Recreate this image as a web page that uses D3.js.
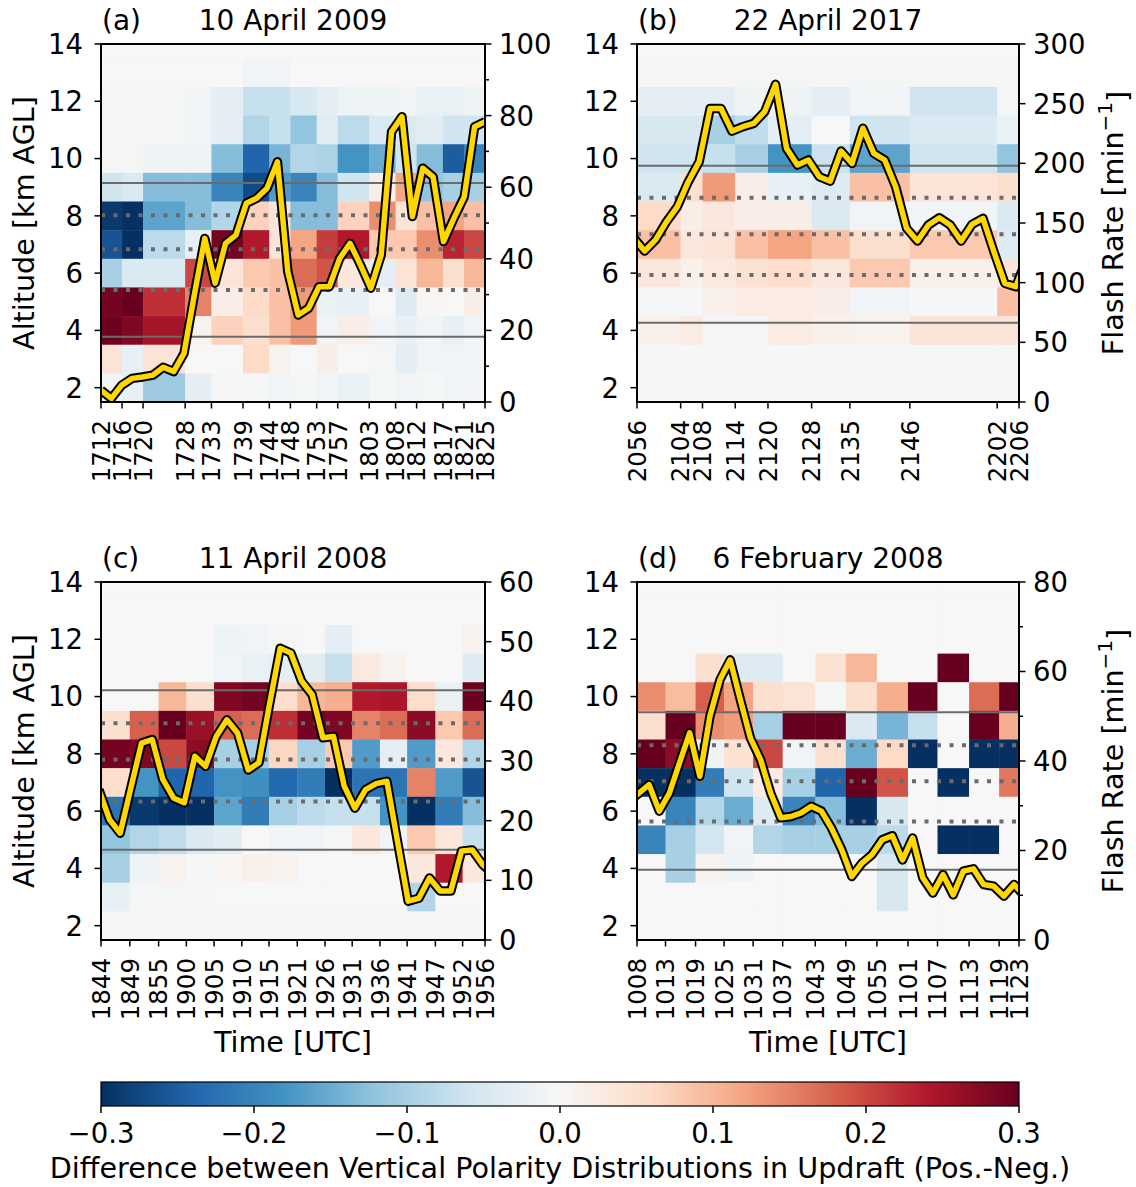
<!DOCTYPE html>
<html>
<head>
<meta charset="utf-8">
<script src="https://cdn.jsdelivr.net/npm/d3@7"></script>
<style>
  body { margin: 0; background: #fff; }
  svg { display: block; }
  text { font-family: "DejaVu Sans", sans-serif; fill: #000; }
</style>
</head>
<body>
<svg id="chart" width="1136" height="1187"></svg>
<script>
// ---------------- data ----------------
// altitude bins (km AGL), top row first
const altitudes = [14, 13, 12, 11, 10, 9, 8, 7, 6, 5, 4, 3, 2];
const altTicks = [2, 4, 6, 8, 10, 12, 14];

// radar scan times (minutes after the first scan) and their HHMM labels
const timesA = [0, 4, 8, 16, 21, 27, 32, 36, 41, 45, 51, 56, 60, 65, 69, 73];
const labelsA = ["1712","1716","1720","1728","1733","1739","1744","1748","1753","1757","1803","1808","1812","1817","1821","1825"];
const timesB = [0, 8, 12, 18, 24, 32, 39, 50, 66, 70];
const labelsB = ["2056","2104","2108","2114","2120","2128","2135","2146","2202","2206"];
const timesC = [0, 5.4, 10.8, 16, 21.2, 26.4, 31.5, 36.8, 42, 47.1, 52.3, 57.4, 62.7, 67.8, 72];
const labelsC = ["1844","1849","1855","1900","1905","1910","1915","1921","1926","1931","1936","1941","1947","1952","1956"];
const timesD = [0, 5.6, 11.5, 17.1, 22.8, 28.6, 35, 41, 47.1, 53.2, 59, 65.2, 71.1, 75];
const labelsD = ["1008","1013","1019","1025","1031","1037","1043","1049","1055","1101","1107","1113","1119","1123"];

// positive minus negative polarity difference per altitude bin (rows) and scan interval (columns)
const diffA = [
  [0,0,0,0,0,0,0,0,0,0,0,0,0,0,0],
  [0,0,0,0,0,-0.01,-0.01,0,0,0,0,0,0,0,0],
  [-0.005,-0.005,-0.005,-0.01,-0.03,-0.07,-0.07,-0.05,-0.03,-0.015,-0.015,-0.01,-0.02,-0.02,-0.015],
  [-0.005,-0.005,-0.005,-0.01,-0.03,-0.09,-0.07,-0.12,-0.035,-0.08,-0.045,-0.045,-0.035,-0.06,-0.06],
  [-0.005,-0.005,-0.015,-0.015,-0.13,-0.24,-0.14,-0.09,-0.095,-0.18,-0.15,-0.06,-0.13,-0.25,-0.2],
  [-0.06,-0.045,-0.13,-0.13,-0.2,-0.27,-0.17,-0.2,-0.13,-0.06,0.02,0.12,-0.12,-0.1,-0.1],
  [-0.29,-0.3,-0.16,-0.13,-0.09,0.07,0.04,-0.13,-0.13,0.07,0.14,0.04,0.09,0.12,0.09],
  [-0.26,-0.3,-0.08,-0.025,0.29,0.24,0.04,0.12,0.21,0.24,0.08,0.08,0.14,0.23,0.2],
  [-0.1,-0.045,-0.045,0.2,0.04,0.08,0.09,0.17,0.19,0.035,-0.03,0.04,0.1,0.05,0.1],
  [0.29,0.3,0.22,0.15,0.02,0.06,0.09,0.13,-0.02,-0.025,0,-0.04,0.005,0,0.02],
  [0.295,0.28,0.25,0.01,0.07,0.05,0.09,0.13,-0.01,0.02,-0.01,-0.025,-0.01,-0.025,-0.01],
  [0.04,-0.025,0.04,0,0,0.06,0.01,0,0.02,0,-0.005,-0.03,-0.01,-0.01,-0.01],
  [-0.01,-0.025,-0.11,-0.03,-0.005,-0.005,-0.01,-0.005,-0.01,-0.02,-0.005,-0.01,-0.005,-0.01,-0.01]
];
const diffB = [
  [0,0,0,0,0,0,0,0,0],
  [-0.005,-0.005,-0.005,-0.005,-0.005,-0.005,-0.005,-0.005,-0.005],
  [-0.03,-0.03,-0.03,-0.015,-0.015,-0.03,-0.01,-0.06,-0.005],
  [-0.05,-0.05,-0.1,-0.075,-0.03,0,-0.06,-0.045,-0.02],
  [-0.06,-0.06,-0.07,-0.1,-0.18,-0.065,-0.16,-0.06,-0.12],
  [-0.045,0.05,0.13,0.02,-0.025,-0.04,0.09,0.04,0.05],
  [0.06,0.02,0.035,0.02,0.02,-0.045,-0.01,-0.01,-0.045],
  [0.09,0.035,0.04,0.09,0.12,0.09,0.05,0.08,-0.04],
  [0.035,0.015,0.03,0.045,0.055,0.035,0.08,0.015,0.04],
  [-0.003,-0.003,0.015,0.025,0.025,0.02,-0.01,-0.003,0.09],
  [0.015,0.025,-0.005,-0.005,0.025,0.015,0.01,0.04,0.04],
  [-0.004,-0.004,-0.004,-0.004,-0.004,-0.004,-0.004,-0.004,-0.004],
  [-0.004,-0.004,-0.004,-0.004,-0.004,-0.004,-0.004,-0.004,-0.004]
];
const diffC = [
  [0,0,0,0,0,0,0,0,0,0,0,0,0,0],
  [0,0,0,0,0,0,0,0,0,0,0,0,0,0],
  [0,0,0,0,-0.015,-0.01,-0.005,0,-0.03,0,0,0,0,0.01],
  [0,0,0,0,-0.01,-0.02,-0.03,-0.035,-0.07,0.03,0.01,0,0,-0.04],
  [0,0,0.1,0.05,0.28,0.29,0.055,0.1,0.11,0.24,0.245,0.055,-0.02,0.295],
  [0.05,0.18,0.3,0.26,0.18,0.17,0.22,0.29,0.28,0.15,0.17,0.27,0.08,0.17],
  [0.29,0.28,0.2,0.27,-0.1,-0.1,0.065,-0.1,0.08,-0.17,-0.03,-0.17,0.035,-0.09],
  [0.055,-0.18,-0.24,-0.24,-0.18,-0.185,-0.235,-0.21,-0.3,-0.22,-0.22,0.15,-0.17,-0.26],
  [-0.22,-0.29,-0.3,-0.3,-0.16,-0.21,-0.1,-0.08,-0.07,-0.07,-0.18,-0.3,-0.21,-0.13],
  [-0.12,-0.09,-0.075,-0.045,-0.035,0,-0.01,-0.01,-0.005,0.035,-0.01,0.08,0.035,-0.07],
  [-0.1,-0.015,0.01,-0.003,0.005,0.015,0.01,0,0,0,0,0.035,0.24,0.035],
  [-0.025,-0.005,-0.005,-0.005,0,0,0,0,0,0,0,-0.09,0,0],
  [-0.003,-0.003,-0.003,-0.003,-0.003,-0.003,-0.003,-0.003,-0.003,-0.003,-0.003,-0.003,-0.003,-0.003]
];
const diffD = [
  [0,0,0,0,0,0,0,0,0,0,0,0,0],
  [0,0,0,0,0,0,0,0,0,0,0,0,0],
  [0,0,0,0,0,0,0,0,0,0,0,0,0],
  [0,0,0.05,-0.04,-0.04,0,0.045,0.1,0,0,0.3,0,0],
  [0.14,0.095,0.18,0.12,0.05,0.04,-0.005,0.05,0.11,0.3,0,0.17,0.3],
  [0.05,0.3,0.14,0.13,-0.1,0.3,0.3,-0.045,-0.14,-0.07,0,0.3,0.11],
  [0.3,0.27,-0.015,0.045,0.2,-0.01,0.05,-0.15,0.06,-0.3,0,-0.3,-0.3],
  [-0.3,-0.3,-0.21,-0.06,0.025,-0.1,-0.24,0.3,0.19,0,-0.3,0,0.16],
  [0,-0.2,-0.09,-0.15,-0.04,-0.2,-0.13,-0.3,-0.05,0,0,0,0],
  [-0.2,-0.1,-0.055,-0.01,-0.09,-0.1,-0.1,-0.1,-0.08,0,-0.3,-0.3,0],
  [0,-0.1,0.01,-0.015,0,0,0,0,-0.05,0,0,0,0],
  [0,0,0,0,0,0,0,0,-0.05,0,0,0,0],
  [0,0,0,0,0,0,0,0,0,0,0,0,0]
];

// total flash rate (min^-1), sampled every ~2 minutes
const flashA = [3.3,1.0,4.7,6.6,7.0,7.5,9.7,8.5,13.6,30,45.7,33.2,44.3,46.6,55.5,56.9,59.7,67.1,36.4,24.3,
  26.2,32.2,32.2,40.1,44.3,38.3,31.8,41.1,75.5,79.7,51.8,65.3,62.9,44.8,51.3,57.3,76.9,78.3];
const flashB = [137.6,126.5,135.8,151,163.7,184.6,201.4,246,246,227,230.7,233.5,243.3,266.2,212.6,198.6,202.8,188.8,
  185,210.3,200,229.4,208.4,202.8,180.4,145.6,134.9,148.3,154.4,148.3,134.9,148.9,153.9,126,99.5,96.6,120];
const flashC = [25.2,20.2,17.9,25.5,33.0,33.6,26.9,23.8,23.0,30.8,29.1,34.1,36.9,34.7,28.5,29.7,39.5,48.9,48.1,
  43.4,41.1,33.9,34.1,25.8,22.1,25.2,26.2,26.6,16.5,6.5,7.0,10.4,8.2,8.2,14.9,15.1,12.6,11];
const flashD = [31,32.8,34.7,28.8,32.8,39.6,46.3,36.6,50,58.2,62.6,53.7,45.1,40.3,32.8,27.3,27.6,28.4,29.9,28.8,
  25.0,20.2,14.2,17.2,19.1,22.4,23.3,17.9,22.8,13.9,10.5,14.6,10.1,15.4,15.9,12.4,12.0,9.8,12.4,10];

// flash-rate axis ticks
const flashTicksA = [0,10,20,30,40,50,60,70,80,90,100];
const flashLabelsA = [0,20,40,60,80,100];
const flashTicksB = [0,50,100,150,200,250,300];
const flashLabelsB = [0,50,100,150,200,250,300];
const flashTicksC = [0,10,20,30,40,50,60];
const flashLabelsC = [0,10,20,30,40,50,60];
const flashTicksD = [0,10,20,30,40,50,60,70,80];
const flashLabelsD = [0,20,40,60,80];

// updraft reference altitudes (km): solid and dotted guide lines
const solidA = [9.15, 3.78], dottedA = [8.02, 6.83, 5.41];
const solidB = [9.75, 4.27], dottedB = [8.63, 7.36, 5.93];
const solidC = [10.22, 4.65], dottedC = [9.07, 7.80, 6.34];
const solidD = [9.45, 3.95], dottedD = [8.30, 7.04, 5.64];

const colorTicks = [-0.3, -0.2, -0.1, 0.0, 0.1, 0.2, 0.3];

// ---------------- drawing ----------------
const FS_TICK = 27.5;   // value tick labels
const FS_TIME = 24.5;   // rotated scan-time labels
const FS_TITLE = 28;    // panel titles
const FS_LABEL = 28.6;  // axis labels
const svg = d3.select("#chart");

// RdBu_r diverging palette
const RDBU_R = ["#053061","#2166ac","#4393c3","#92c5de","#d1e5f0","#f7f7f7","#fddbc7","#f4a582","#d6604d","#b2182b","#67001f"];
const cdom = [-0.3, 0.3];
const color = d3.scaleLinear()
  .domain(RDBU_R.map((_, i) => cdom[0] + i * (cdom[1] - cdom[0]) / 10))
  .range(RDBU_R).clamp(true);

const fmtMinus = v => (v < 0 ? "\u2212" : "") + Math.abs(v).toFixed(1);

const panels = [
  { id: "a", tag: "(a)", date: "10 April 2009", x0: 101, x1: 485, y0: 44, y1: 402,
    times: timesA, labels: labelsA, diff: diffA, flash: flashA, fStart: 0, fStep: 73 / 37,
    fMax: 100, fTicks: flashTicksA, fLabels: flashLabelsA, solid: solidA, dotted: dottedA,
    altLabel: true, flashLabel: false, timeLabel: false },
  { id: "b", tag: "(b)", date: "22 April 2017", x0: 637, x1: 1019, y0: 44, y1: 402,
    times: timesB, labels: labelsB, diff: diffB, flash: flashB, fStart: -0.6, fStep: 2,
    fMax: 300, fTicks: flashTicksB, fLabels: flashLabelsB, solid: solidB, dotted: dottedB,
    altLabel: false, flashLabel: true, timeLabel: false },
  { id: "c", tag: "(c)", date: "11 April 2008", x0: 101, x1: 485, y0: 582, y1: 940,
    times: timesC, labels: labelsC, diff: diffC, flash: flashC, fStart: -0.4, fStep: 2,
    fMax: 60, fTicks: flashTicksC, fLabels: flashLabelsC, solid: solidC, dotted: dottedC,
    altLabel: true, flashLabel: false, timeLabel: true },
  { id: "d", tag: "(d)", date: "6 February 2008", x0: 637, x1: 1019, y0: 582, y1: 940,
    times: timesD, labels: labelsD, diff: diffD, flash: flashD, fStart: -1.6, fStep: 1.99,
    fMax: 80, fTicks: flashTicksD, fLabels: flashLabelsD, solid: solidD, dotted: dottedD,
    altLabel: false, flashLabel: true, timeLabel: true }
];

const defs = svg.append("defs");

panels.forEach(p => {
  const xs = d3.scaleLinear().domain([0, p.times[p.times.length - 1]]).range([p.x0, p.x1]);
  const ys = d3.scaleLinear().domain([1.5, 14]).range([p.y1, p.y0]);
  const fs = d3.scaleLinear().domain([0, p.fMax]).range([p.y1, p.y0]);

  defs.append("clipPath").attr("id", "clip-" + p.id)
    .append("rect").attr("x", p.x0).attr("y", p.y0)
    .attr("width", p.x1 - p.x0).attr("height", p.y1 - p.y0);

  const g = svg.append("g");
  const plot = g.append("g").attr("clip-path", `url(#clip-${p.id})`);

  plot.append("rect").attr("x", p.x0).attr("y", p.y0)
    .attr("width", p.x1 - p.x0).attr("height", p.y1 - p.y0).attr("fill", "#f5f5f5");

  // heatmap cells
  const cells = [];
  p.diff.forEach((row, r) => row.forEach((v, c) => cells.push({ alt: altitudes[r], c, v })));
  plot.selectAll("rect.cell").data(cells).join("rect")
    .attr("class", "cell")
    .attr("x", d => xs(p.times[d.c]))
    .attr("width", d => xs(p.times[d.c + 1]) - xs(p.times[d.c]) + 0.4)
    .attr("y", d => ys(d.alt + 0.5))
    .attr("height", d => ys(d.alt - 0.5) - ys(d.alt + 0.5) + 0.4)
    .attr("fill", d => color(d.v));

  // updraft guide lines
  plot.selectAll("line.solid").data(p.solid).join("line")
    .attr("x1", p.x0).attr("x2", p.x1)
    .attr("y1", d => ys(d)).attr("y2", d => ys(d))
    .attr("stroke", "#6b6b6b").attr("stroke-width", 2);
  plot.selectAll("line.dot").data(p.dotted).join("line")
    .attr("x1", p.x0).attr("x2", p.x1)
    .attr("y1", d => ys(d)).attr("y2", d => ys(d))
    .attr("stroke", "#6b6b6b").attr("stroke-width", 4)
    .attr("stroke-dasharray", "4 8.5");

  // flash rate line (black outline under gold)
  const pts = p.flash.map((v, k) => ({ t: p.fStart + k * p.fStep, v }));
  const line = d3.line().x(d => xs(d.t)).y(d => fs(d.v));
  plot.append("path").datum(pts).attr("d", line)
    .attr("fill", "none").attr("stroke", "#000").attr("stroke-width", 9.5)
    .attr("stroke-linejoin", "round");
  plot.append("path").datum(pts).attr("d", line)
    .attr("fill", "none").attr("stroke", "#ffd700").attr("stroke-width", 5.5)
    .attr("stroke-linejoin", "round");

  // frame
  g.append("rect").attr("x", p.x0).attr("y", p.y0)
    .attr("width", p.x1 - p.x0).attr("height", p.y1 - p.y0)
    .attr("fill", "none").attr("stroke", "#000").attr("stroke-width", 2);

  // left axis
  altTicks.forEach(a => {
    g.append("line").attr("x1", p.x0 - 6.5).attr("x2", p.x0)
      .attr("y1", ys(a)).attr("y2", ys(a)).attr("stroke", "#000").attr("stroke-width", 1.5);
    g.append("text").attr("x", p.x0 - 18).attr("y", ys(a)).attr("dy", "0.36em")
      .attr("text-anchor", "end").style("font-size", FS_TICK + "px").text(a);
  });

  // right axis (flash rate)
  p.fTicks.forEach(v => {
    const major = p.fLabels.includes(v);
    g.append("line").attr("x1", p.x1).attr("x2", p.x1 + (major ? 6.5 : 4))
      .attr("y1", fs(v)).attr("y2", fs(v)).attr("stroke", "#000").attr("stroke-width", 1.5);
  });
  p.fLabels.forEach(v => {
    g.append("text").attr("x", p.x1 + 14).attr("y", fs(v)).attr("dy", "0.36em")
      .attr("text-anchor", "start").style("font-size", FS_TICK + "px").text(v);
  });

  // bottom axis: scan times
  p.times.forEach((t, i) => {
    g.append("line").attr("x1", xs(t)).attr("x2", xs(t))
      .attr("y1", p.y1).attr("y2", p.y1 + 6.5).attr("stroke", "#000").attr("stroke-width", 1.5);
    g.append("text")
      .attr("transform", `translate(${xs(t)},${p.y1 + 18}) rotate(-90)`)
      .attr("dy", "0.36em").attr("text-anchor", "end")
      .style("font-size", FS_TIME + "px").text(p.labels[i]);
  });

  // titles
  g.append("text").attr("x", p.x0 + 1).attr("y", p.y0 - 14)
    .style("font-size", FS_TITLE + "px").text(p.tag);
  g.append("text").attr("x", (p.x0 + p.x1) / 2).attr("y", p.y0 - 14)
    .attr("text-anchor", "middle").style("font-size", FS_TITLE + "px").text(p.date);

  if (p.altLabel) {
    g.append("text")
      .attr("transform", `translate(34,${(p.y0 + p.y1) / 2}) rotate(-90)`)
      .attr("text-anchor", "middle").style("font-size", FS_LABEL + "px").text("Altitude [km AGL]");
  }
  if (p.flashLabel) {
    const t = g.append("text")
      .attr("transform", `translate(1123,${(p.y0 + p.y1) / 2}) rotate(-90)`)
      .attr("text-anchor", "middle").style("font-size", FS_LABEL + "px");
    t.append("tspan").text("Flash Rate [min");
    t.append("tspan").attr("dy", "-0.55em").style("font-size", (FS_LABEL * 0.7) + "px").text("\u22121");
    t.append("tspan").attr("dy", "0.55em").text("]");
  }
  if (p.timeLabel) {
    g.append("text").attr("x", (p.x0 + p.x1) / 2).attr("y", 1052)
      .attr("text-anchor", "middle").style("font-size", FS_LABEL + "px").text("Time [UTC]");
  }
});

// ---------------- colorbar ----------------
const cb = { x0: 101, x1: 1019, y0: 1082, y1: 1106 };
const cx = d3.scaleLinear().domain(cdom).range([cb.x0, cb.x1]);
const grad = defs.append("linearGradient").attr("id", "cbar")
  .attr("x1", "0%").attr("x2", "100%").attr("y1", "0%").attr("y2", "0%");
d3.range(0, 1.0001, 0.02).forEach(f => {
  grad.append("stop").attr("offset", (f * 100) + "%")
    .attr("stop-color", color(cdom[0] + f * (cdom[1] - cdom[0])));
});
svg.append("rect").attr("x", cb.x0).attr("y", cb.y0)
  .attr("width", cb.x1 - cb.x0).attr("height", cb.y1 - cb.y0)
  .attr("fill", "url(#cbar)").attr("stroke", "#000").attr("stroke-width", 1.2);
colorTicks.forEach(v => {
  svg.append("line").attr("x1", cx(v)).attr("x2", cx(v))
    .attr("y1", cb.y1).attr("y2", cb.y1 + 7).attr("stroke", "#000").attr("stroke-width", 1.5);
  svg.append("text").attr("x", cx(v)).attr("y", 1143).attr("text-anchor", "middle")
    .style("font-size", FS_TICK + "px").text(fmtMinus(v));
});
svg.append("text").attr("x", (cb.x0 + cb.x1) / 2).attr("y", 1178).attr("text-anchor", "middle")
  .style("font-size", FS_LABEL + "px")
  .text("Difference between Vertical Polarity Distributions in Updraft (Pos.-Neg.)");
</script>
</body>
</html>
